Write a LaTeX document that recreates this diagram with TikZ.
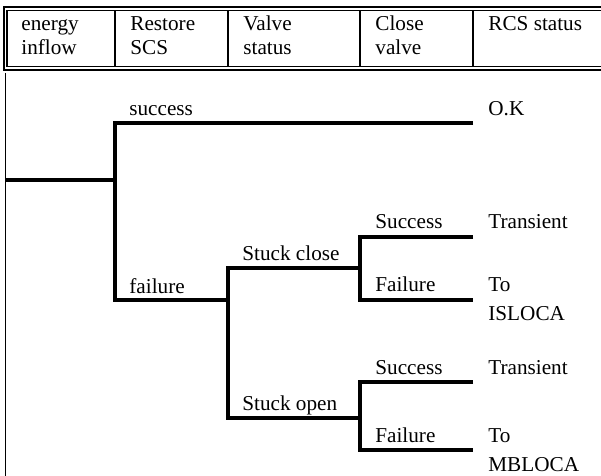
\documentclass[tikz,border=0pt]{standalone}
\usepackage{fontspec}
\setmainfont{Liberation Serif}
\usepackage{tikz}
\tikzset{
  event node/.style={anchor=base west,inner sep=0pt,align=left,
    font=\fontsize{10.6}{14.5}\selectfont},
  head node/.style={anchor=base west,inner sep=0pt,align=left,
    font=\fontsize{10.6}{12}\selectfont},
  branch line/.style={line width=2.4pt},
  frame line/.style={line width=0.6pt}
}

\begin{document}
\begin{tikzpicture}[x=0.5pt,y=-0.5pt]
  \useasboundingbox (0,0) rectangle (601,476);
  \clip (0,0) rectangle (601,476);
  % heading row
  \draw [frame line] (4,7) rectangle (620,70);
  \draw [frame line] (7,10.5) rectangle (620,66.5);
  \foreach \x in {115,228,360,473}
    \draw [frame line] (\x,10.5) -- (\x,66.5);
  \draw [frame line] (5.5,73) -- (5.5,490);
  \node [head node] (hinflow) at (21,55) {energy\\inflow};
  \node [head node] (hscs) at (130,55) {Restore\\SCS};
  \node [head node] (hvalve) at (243,55) {Valve\\status};
  \node [head node] (hclose) at (375,55) {Close\\valve};
  \node [head node] (hrcs) at (488,31) {RCS status};
  % branch points
  \coordinate (inflow) at (5.5,180);
  \coordinate (scs) at (115,180);
  \coordinate (ok) at (473,123);
  \coordinate (valve) at (228,300);
  \coordinate (sclose) at (360,268);
  \coordinate (sopen) at (360,418);
  \coordinate (cs1) at (473,237);
  \coordinate (cf1) at (473,300);
  \coordinate (cs2) at (473,382);
  \coordinate (cf2) at (473,450);
  % tree
  \draw [branch line] (inflow) -- (scs);
  \draw [branch line] (ok) -| (scs) |- (valve);
  \draw [branch line] (sclose) -| (valve) |- (sopen);
  \draw [branch line] (cs1) -| (sclose) |- (cf1);
  \draw [branch line] (cs2) -| (sopen) |- (cf2);
  % texts
  \node [event node] (success) at (129,116) {success};
  \node [event node] (failure) at (129,293) {failure};
  \node [event node] (stclose) at (242,261) {Stuck close};
  \node [event node] (stopen) at (242,411) {Stuck open};
  \node [event node] (succ1) at (375,229) {Success};
  \node [event node] (fail1) at (375,292) {Failure};
  \node [event node] (succ2) at (375,375) {Success};
  \node [event node] (fail2) at (375,443) {Failure};
  \node [event node] (okres) at (488,116) {O.K};
  \node [event node] (trans1) at (488,229) {Transient};
  \node [event node] (isloca) at (488,321) {To\\ISLOCA};
  \node [event node] (trans2) at (488,375) {Transient};
  \node [event node] (mbloca) at (488,472) {To\\MBLOCA};
\end{tikzpicture}
\end{document}
